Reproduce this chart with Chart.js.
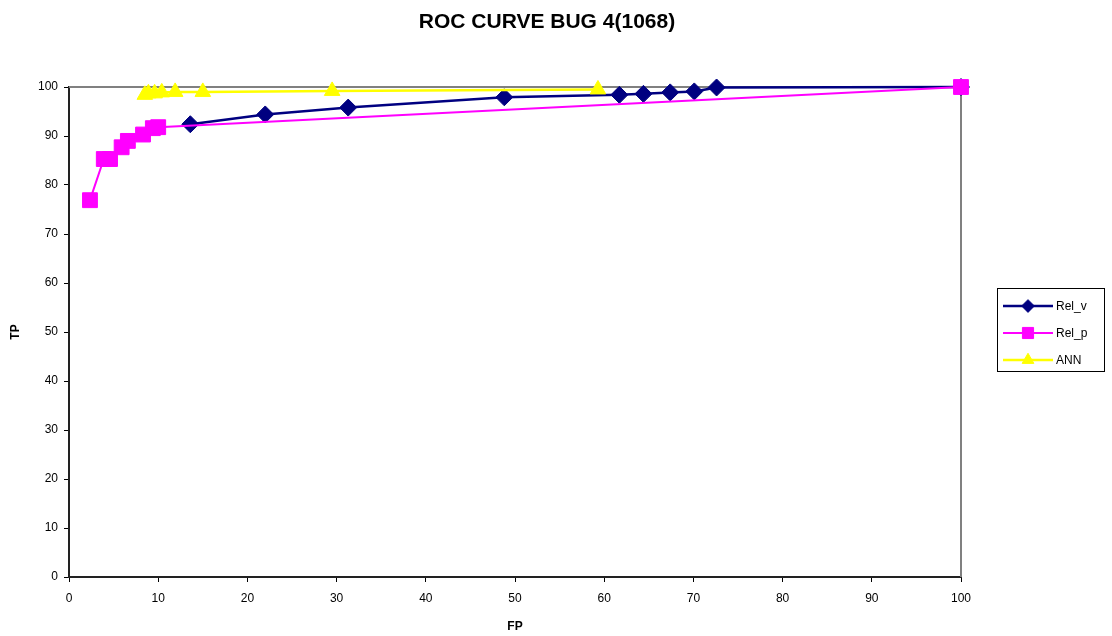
<!DOCTYPE html>
<html>
<head>
<meta charset="utf-8">
<script src="https://cdn.jsdelivr.net/npm/chart.js@4.4.1/dist/chart.umd.min.js"></script>
<style>
  body { margin: 0; background: #fff; }
  #wrap { width: 1112px; height: 636px; }
</style>
</head>
<body>
<div id="wrap"><canvas id="rocChart" width="1112" height="636"></canvas></div>
<script>
// values
const relvFP = [13.6, 22.0, 31.3, 48.8, 61.7, 64.4, 67.4, 70.1, 72.6, 100];
const relvTP = [92.4, 94.4, 95.8, 97.9, 98.4, 98.6, 98.9, 99.1, 99.9, 100];
const relpFP = [2.35, 3.9, 4.6, 5.9, 6.6, 8.3, 9.4, 10.0, 100];
const relpTP = [76.9, 85.3, 85.3, 87.7, 89.0, 90.3, 91.6, 91.8, 100];
const annFP = [8.5, 8.9, 9.6, 10.4, 11.9, 15.0, 29.5, 59.3];
const annTP = [98.4, 98.7, 98.7, 98.9, 99.0, 99.0, 99.2, 99.5];
const seriesNames = ['Rel_v', 'Rel_p', 'ANN'];

function toPoints(xs, ys) {
  return xs.map((x, i) => ({x: x, y: ys[i]}));
}

const FONT = '"Liberation Sans", Arial, sans-serif';

// title, plot border (top/right) and the boxed legend on the right
const excelBits = {
  id: 'excelBits',
  beforeDatasetsDraw(chart) {
    const ctx = chart.ctx, a = chart.chartArea;
    ctx.save();
    ctx.strokeStyle = '#808080';
    ctx.lineWidth = 2;
    ctx.beginPath();
    ctx.moveTo(a.left, a.top);
    ctx.lineTo(a.right, a.top);
    ctx.lineTo(a.right, a.bottom);
    ctx.stroke();
    ctx.restore();
  },
  afterDraw(chart) {
    const ctx = chart.ctx;
    ctx.save();
    ctx.fillStyle = '#000';
    ctx.font = 'bold 21px ' + FONT;
    ctx.textAlign = 'center';
    ctx.textBaseline = 'middle';
    ctx.fillText('ROC CURVE BUG 4(1068)', 547, 22);

    // legend
    ctx.strokeStyle = '#000';
    ctx.lineWidth = 1;
    ctx.strokeRect(997.5, 288.5, 107, 83);
    ctx.font = '12px ' + FONT;
    ctx.textAlign = 'left';
    chart.data.datasets.forEach((ds, i) => {
      const y = 306 + i * 27;
      ctx.strokeStyle = ds.borderColor;
      ctx.lineWidth = ds.borderWidth;
      ctx.beginPath();
      ctx.moveTo(1003, y);
      ctx.lineTo(1053, y);
      ctx.stroke();
      ctx.fillStyle = ds.backgroundColor;
      ctx.strokeStyle = ds.backgroundColor;
      ctx.lineWidth = 1;
      Chart.helpers.drawPoint(ctx, {pointStyle: ds.pointStyle, radius: ds.pointRadius * 0.75, borderWidth: 1}, 1028, y);
      ctx.fillStyle = '#000';
      ctx.fillText(ds.label, 1056, y + 1);
    });
    ctx.restore();
  }
};

const config = {
  type: 'scatter',
  data: {
    datasets: [{
      label: seriesNames[0],
      data: toPoints(relvFP, relvTP),
      showLine: true,
      borderColor: '#000080',
      backgroundColor: '#000080',
      borderWidth: 2.5,
      pointStyle: 'rectRot',
      pointRadius: 8.5,
      pointBorderWidth: 1,
      clip: false,
      order: 3
    }, {
      label: seriesNames[1],
      data: toPoints(relpFP, relpTP),
      showLine: true,
      borderColor: '#ff00ff',
      backgroundColor: '#ff00ff',
      borderWidth: 2,
      pointStyle: 'rect',
      pointRadius: 10.5,
      pointBorderWidth: 1,
      clip: false,
      order: 2
    }, {
      label: seriesNames[2],
      data: toPoints(annFP, annTP),
      showLine: true,
      borderColor: '#ffff00',
      backgroundColor: '#ffff00',
      borderWidth: 2.5,
      pointStyle: 'triangle',
      pointRadius: 9,
      pointBorderWidth: 1,
      clip: false,
      order: 1
    }]
  },
  options: {
    responsive: false,
    animation: false,
    layout: {
      padding: {left: 6, top: 87, right: 151, bottom: 0}
    },
    scales: {
      x: {
        type: 'linear',
        min: 0,
        max: 100,
        afterFit: (scale) => { scale.height = 59; },
        ticks: {stepSize: 10, color: '#000', padding: 9, font: {family: FONT, size: 12}},
        grid: {display: true, drawOnChartArea: false, drawTicks: true, tickLength: 5, color: '#000', tickColor: '#000'},
        border: {display: true, color: '#222', width: 2},
        title: {display: true, text: 'FP', color: '#000', font: {family: FONT, size: 12, weight: 'bold'}, padding: {top: 4, bottom: 2}}
      },
      y: {
        type: 'linear',
        min: 0,
        max: 100,
        afterFit: (scale) => { scale.width = 63; },
        ticks: {stepSize: 10, color: '#000', padding: 6, font: {family: FONT, size: 12}},
        grid: {display: true, drawOnChartArea: false, drawTicks: true, tickLength: 5, color: '#000', tickColor: '#000'},
        border: {display: true, color: '#222', width: 2},
        title: {display: true, text: 'TP', color: '#000', font: {family: FONT, size: 12, weight: 'bold'}, padding: {top: 2, bottom: 2}}
      }
    },
    plugins: {
      legend: {display: false},
      tooltip: {enabled: false}
    }
  },
  plugins: [excelBits]
};

let rocChart = new Chart(document.getElementById('rocChart'), config);
</script>
</body>
</html>
